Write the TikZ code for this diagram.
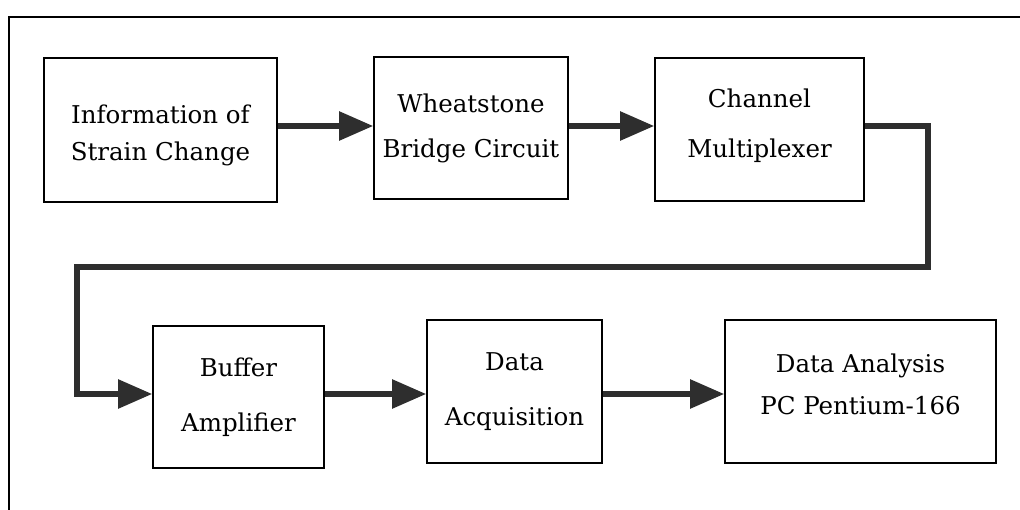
\documentclass[tikz,border=0pt]{standalone}
\usepackage{fontspec}
\setmainfont{DejaVu Serif}
\usetikzlibrary{arrows.meta}

\tikzset{
  block/.style={draw=black, line width=1.6pt, inner sep=0pt},
  caption/.style={inner sep=0pt, align=center,
    font=\fontsize{24.5}{37}\selectfont},
  flow/.style={draw=black!82, line width=5.5pt,
    -{Triangle[length=34pt,width=28pt]}},
  frameline/.style={draw=black, line width=1.8pt}
}

\begin{document}
\begin{tikzpicture}[x=1pt,y=-1pt]
  \useasboundingbox (0,0) rectangle (1020,510);

  % outer frame (top and left edges)
  \coordinate (f0) at (9,510);
  \coordinate (f1) at (9,17);
  \coordinate (f2) at (1020,17);
  \draw[frameline] (f0) -- (f1) -- (f2);

  % first row
  \node[block, minimum width=233pt, minimum height=144pt] (info) at (160.5,130) {};
  \node[block, minimum width=194pt, minimum height=142pt] (wheat) at (471,128) {};
  \node[block, minimum width=209pt, minimum height=143pt] (mux) at (759.5,129.5) {};

  % second row
  \node[block, minimum width=171pt, minimum height=142pt] (buf) at (238.5,397) {};
  \node[block, minimum width=175pt, minimum height=143pt] (daq) at (514.5,391.5) {};
  \node[block, minimum width=271pt, minimum height=143pt] (pc) at (860.5,391.5) {};

  % block texts
  \node[caption] (infoT) at ([yshift=-5pt]info.center) {Information of\\Strain Change};
  \node[caption] (wheatT) at (wheat.center) {Wheatstone\\[8pt]Bridge Circuit};
  \node[caption] (muxT) at ([yshift=4pt]mux.center) {Channel\\[13pt]Multiplexer};
  \node[caption] (bufT) at (buf.center) {Buffer\\[18pt]Amplifier};
  \node[caption] (daqT) at (daq.center) {Data\\[18pt]Acquisition};
  \node[caption] (pcT) at ([yshift=7pt]pc.center) {Data Analysis\\[5pt]PC Pentium-166};

  % signal levels of the two rows and the return path
  \coordinate (r1) at (0,126);
  \coordinate (r2) at (0,394);
  \coordinate (t1) at (928,126);
  \coordinate (t2) at (928,267);
  \coordinate (t3) at (77,267);
  \coordinate (t4) at (77,394);

  \draw[flow] (info.east |- r1) -- (wheat.west |- r1);
  \draw[flow] (wheat.east |- r1) -- (mux.west |- r1);
  \draw[flow] (mux.east |- r1) -- (t1) -- (t2) -- (t3) -- (t4) -- (buf.west |- r2);
  \draw[flow] (buf.east |- r2) -- (daq.west |- r2);
  \draw[flow] (daq.east |- r2) -- (pc.west |- r2);
\end{tikzpicture}
\end{document}
